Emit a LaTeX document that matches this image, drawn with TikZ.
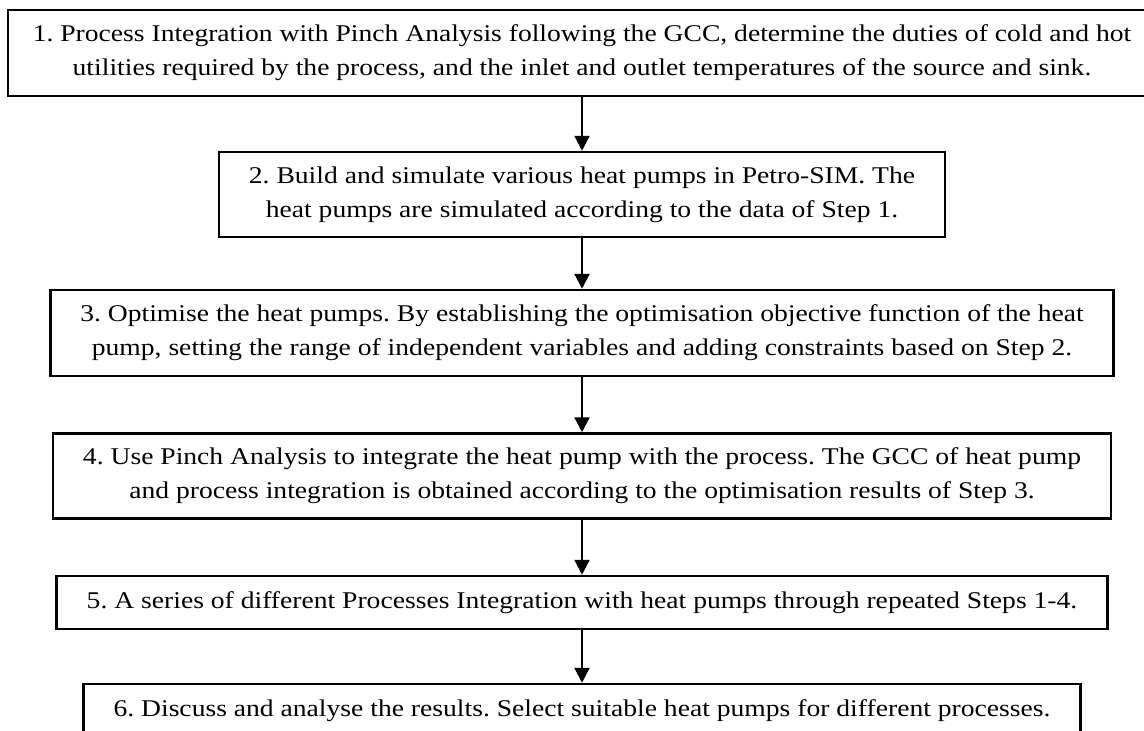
\documentclass[tikz,border=0pt]{standalone}
\usepackage{fontspec}
\setmainfont[FakeStretch=1.15]{Liberation Serif}
\usepackage{tikz}
\usetikzlibrary{arrows.meta,positioning}
\tikzset{
    step-box/.style = {draw=black, line width=2.5pt, fill=white, rectangle, align=center, inner xsep=30pt, inner ysep=0pt, font=\fontsize{24}{34}\selectfont},
    flow-arrow/.style = {line width=2.2pt, -{Triangle[length=15pt, width=15pt]}},
}
\frenchspacing

\begin{document}
\begin{tikzpicture}[x=1pt, y=-1pt]
\useasboundingbox (0,0) rectangle (1144,731);
\node[step-box, inner xsep=25pt, minimum height=86pt] (s1) at (582,53)
    {1. Process Integration with Pinch Analysis following the GCC, determine the duties of cold and hot\\
     utilities required by the process, and the inlet and outlet temperatures of the source and sink.};
\node[step-box, minimum height=85pt] (s2) at (582,194.5)
    {2. Build and simulate various heat pumps in Petro-SIM. The\\
     heat pumps are simulated according to the data of Step 1.};
\node[step-box, minimum height=86pt] (s3) at (582,333)
    {3. Optimise the heat pumps. By establishing the optimisation objective function of the heat\\
     pump, setting the range of independent variables and adding constraints based on Step 2.};
\node[step-box, minimum height=85pt] (s4) at (582,476)
    {4. Use Pinch Analysis to integrate the heat pump with the process. The GCC of heat pump\\
     and process integration is obtained according to the optimisation results of Step 3.};
\node[step-box, minimum height=53pt] (s5) at (582,602.5)
    {5. A series of different Processes Integration with heat pumps through repeated Steps 1-4.};
\node[step-box, minimum height=53pt] (s6) at (582,710.5)
    {6. Discuss and analyse the results. Select suitable heat pumps for different processes.};
% arrows between the steps
\draw[flow-arrow] (s1) -- (s2);
\draw[flow-arrow] (s2) -- (s3);
\draw[flow-arrow] (s3) -- (s4);
\draw[flow-arrow] (s4) -- (s5);
\draw[flow-arrow] (s5) -- (s6);
\end{tikzpicture}
\end{document}
